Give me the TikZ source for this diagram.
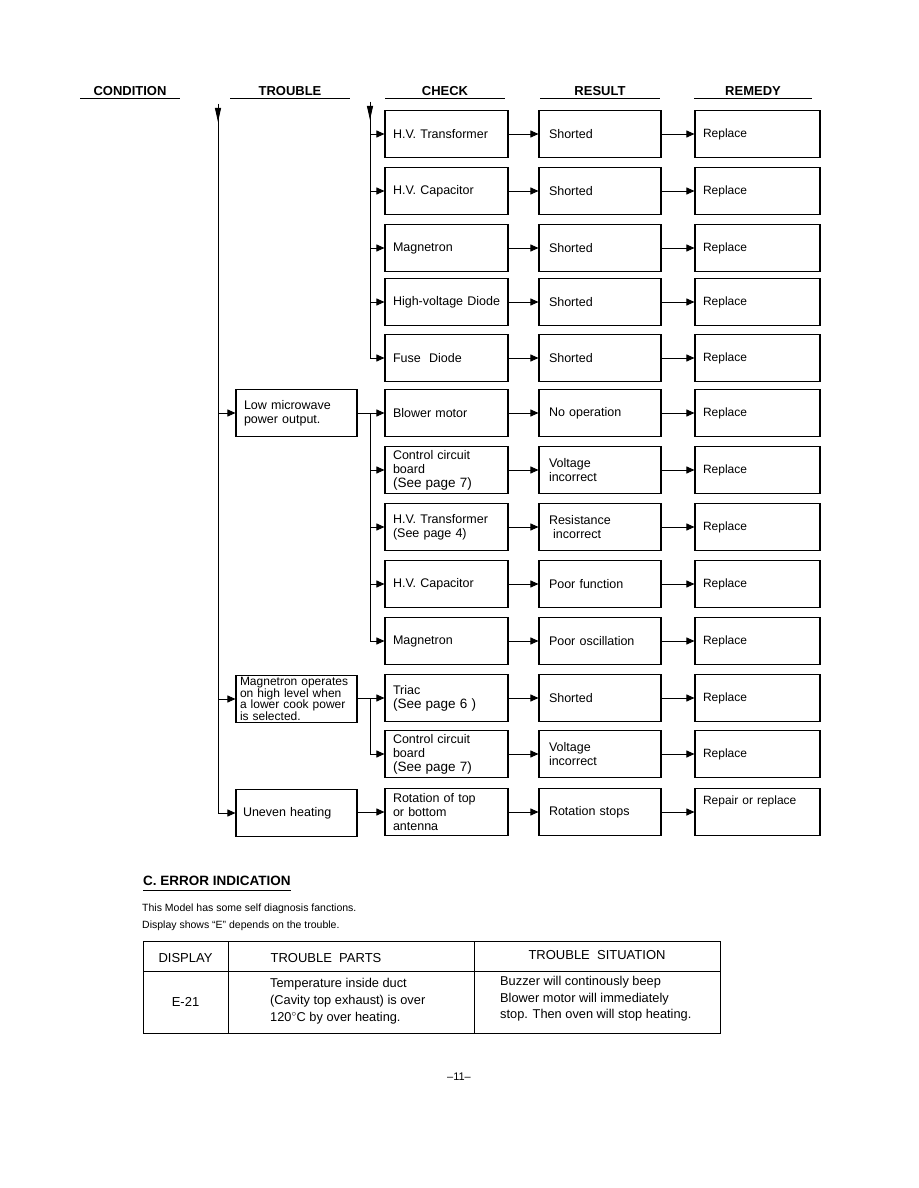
\documentclass[tikz,border=0pt]{standalone}
\usepackage{fontspec}
\setmainfont{Liberation Sans}
\usetikzlibrary{positioning,arrows.meta,calc}
\newcommand{\seepg}[1]{{\fontsize{13.5}{15}\selectfont #1}}
\tikzset{
  box/.style={draw,line width=1.1pt,minimum height=47pt,inner ysep=2pt,align=left,font=\fontsize{12.5}{14}\selectfont},
  chk/.style={box,inner xsep=8pt,text width=107pt},
  res/.style={box,inner xsep=10pt,text width=102pt},
  rem/.style={box,inner xsep=8pt,text width=109pt,font=\fontsize{12}{14}\selectfont},
  trb/.style={box,inner xsep=8pt,text width=105pt},
  ln/.style={line width=0.9pt},
  arr/.style={ln,-{Triangle[length=8pt,width=7pt]}},
  lead/.style={ln,-{Triangle[length=14pt,width=6pt]}},
  hd/.style={font=\bfseries\fontsize{13}{14}\selectfont},
  txt/.style={anchor=base west,inner xsep=0pt,font=\fontsize{10.5}{12}\selectfont},
  cell/.style={font=\fontsize{13}{15}\selectfont}
}
\begin{document}
\begin{tikzpicture}[x=1pt,y=-1pt]
\useasboundingbox (0,0) rectangle (918,1188);
\foreach \n/\x/\w/\t in {cond/130/50/CONDITION,trb/290/60/TROUBLE,chk/445/60/CHECK,res/600/60/RESULT,rem/753/59/REMEDY}{
  \node[hd] (h\n) at (\x,91) {\t};
  \draw[ln] (\x-\w,98) -- (\x+\w,98);}
\foreach \i/\y/\c/\r/\m in {1/134/{H.V. Transformer}/Shorted/Replace,
    2/191/{H.V. Capacitor}/Shorted/Replace,
    3/248/Magnetron/Shorted/Replace,
    4/302/{\mbox{High-voltage Diode}}/Shorted/Replace,
    5/358/{Fuse\ \ Diode}/Shorted/Replace,
    6/413/{Blower motor}/{No operation}/Replace,
    7/470/{Control circuit\\board\\\seepg{(See page 7)}}/{Voltage\\incorrect}/Replace,
    8/527/{H.V. Transformer\\(See page 4)}/{Resistance\\\ incorrect}/Replace,
    9/584/{H.V. Capacitor}/{Poor function}/Replace,
    10/641/Magnetron/{Poor oscillation}/Replace,
    11/698/{Triac\\\seepg{(See page 6 )}}/Shorted/Replace,
    12/754/{Control circuit\\board\\\seepg{(See page 7)}}/{Voltage\\incorrect}/Replace,
    13/812/{Rotation of top\\or bottom\\antenna}/{Rotation stops}/{Repair or replace\\[9pt]\mbox{}}}{
  \node[chk] (c\i) at (446.5,\y) {\c};
  \node[res] (r\i) at (600,\y) {\r};
  \node[rem] (m\i) at (757.5,\y) {\m};
  \draw[arr] (c\i) -- (r\i);
  \draw[arr] (r\i) -- (m\i);}
\node[trb] (t1) at (296.5,413) {Low microwave\\power output.};
\node[trb,inner xsep=4pt,text width=113pt,inner ysep=2pt,font=\fontsize{12}{11.8}\selectfont] (t2) at (296.5,699) {Magnetron operates\\on high level when\\a lower cook power\\is selected.};
\node[trb,inner xsep=7pt,text width=107pt] (t3) at (296.5,813) {Uneven heating};
\coordinate (topT) at (218,104);
\coordinate (topC) at (370,102);
\draw[ln] (topT) -- (topT |- t3);
\draw[lead] (topT) -- ++(0,18);
\foreach \t in {t1,t2,t3} \draw[arr] (topT |- \t) -- (\t.west);
\draw[ln] (topC) -- (topC |- c5);
\draw[lead] (topC) -- ++(0,18);
\foreach \i in {1,...,5} \draw[arr] (topC |- c\i) -- (c\i.west);
\draw[arr] (t1) -- (c6);
\draw[ln] (topC |- t1) -- (topC |- c10);
\foreach \i in {7,...,10} \draw[arr] (topC |- c\i) -- (c\i.west);
\draw[arr] (t2.east |- c11) -- (c11);
\draw[ln] (topC |- c11) -- (topC |- c12);
\draw[arr] (topC |- c12) -- (c12.west);
\draw[arr] (t3.east |- c13) -- (c13);
\node[anchor=base west,inner xsep=0pt,font=\bfseries\fontsize{13.5}{15}\selectfont] (errh) at (143,885) {C. ERROR INDICATION};
\draw[line width=1pt] ($(errh.base west)+(0,5)$) -- ($(errh.base east)+(0,5)$);
\node[txt] (intro1) at (142,911) {This Model has some self diagnosis fanctions.};
\node[txt] (intro2) at (142,928) {Display shows “E” depends on the trouble.};
\draw[line width=1pt] (143,941) rectangle (720,1033);
\draw[ln] (143,971) -- (720,971);
\draw[ln] (228,941) -- (228,1033);
\draw[ln] (474,941) -- (474,1033);
\node[cell] (hdsp) at (185.5,958) {DISPLAY};
\node[cell] (hprt) at (326,958) {TROUBLE\ \ PARTS};
\node[cell] (hsit) at (597,955) {TROUBLE\ \ SITUATION};
\node[cell] (e21) at (185.5,1002) {E-21};
\node[anchor=west,inner xsep=0pt,align=left,font=\fontsize{12.8}{17}\selectfont] (prt) at (270,1001) {Temperature inside duct\\(Cavity top exhaust) is over\\120$^{\circ}$C by over heating.};
\node[anchor=west,inner xsep=0pt,align=left,font=\fontsize{12.8}{16.5}\selectfont] (sit) at (500,999) {Buzzer will continously beep\\Blower motor will immediately\\stop. Then oven will stop heating.};
\node[font=\fontsize{11}{13}\selectfont] (pg) at (459,1077) {–11–};
\end{tikzpicture}
\end{document}
